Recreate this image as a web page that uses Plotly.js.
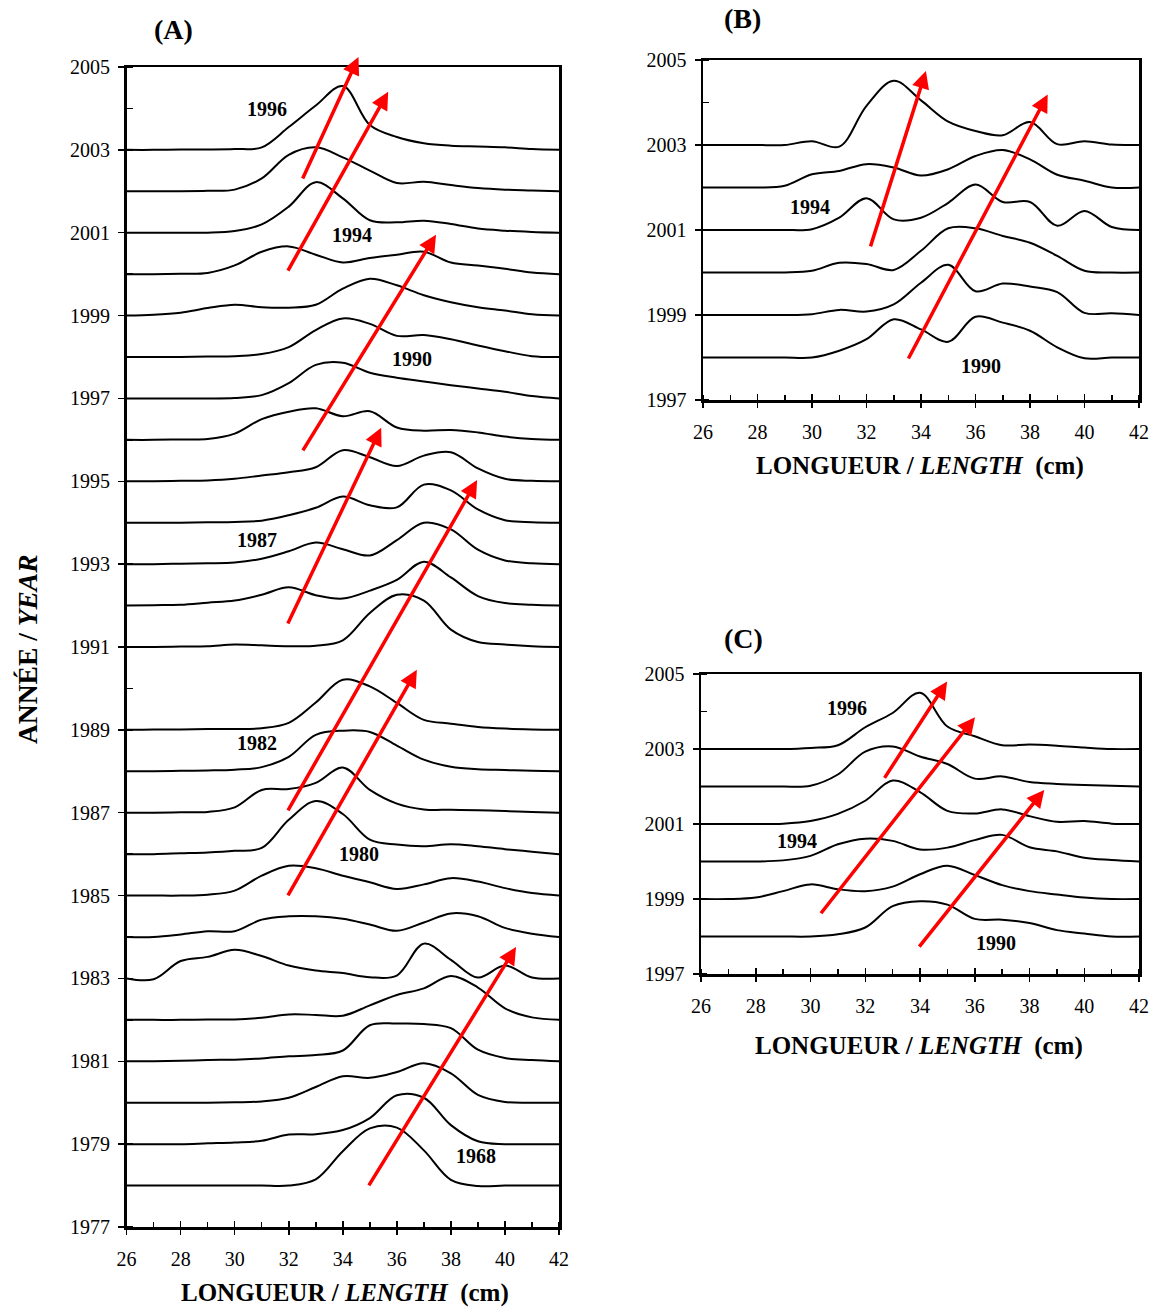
<!DOCTYPE html>
<html>
<head>
<meta charset="utf-8">
<script src="https://cdn.plot.ly/plotly-3.0.1.min.js"></script>
<style>
  html, body { margin: 0; padding: 0; background: #ffffff; }
  #chart { width: 1156px; height: 1310px; }
</style>
</head>
<body>
<div id="chart"></div>
<script>
// Length classes (cm) at which each length-frequency curve is sampled
const lengthsCm = [26, 27, 28, 29, 30, 31, 32, 33, 34, 35, 36, 37, 38, 39, 40, 41, 42];

// Panel A: relative frequency (in year units above each year's baseline)
const a2003 = [0, 0, 0.01, 0.01, 0.02, 0.06, 0.55, 1.07, 1.54, 0.60, 0.31, 0.16, 0.10, 0.08, 0.06, 0.02, 0];
const a2002 = [0, 0, 0, 0.01, 0.04, 0.31, 0.88, 1.06, 0.82, 0.50, 0.20, 0.23, 0.15, 0.08, 0.04, 0.02, 0];
const a2001 = [0, 0, 0, 0, 0.04, 0.20, 0.63, 1.22, 0.83, 0.30, 0.25, 0.29, 0.21, 0.10, 0.05, 0.02, 0];
const a2000 = [0, 0, 0.01, 0.03, 0.21, 0.54, 0.67, 0.47, 0.28, 0.39, 0.47, 0.54, 0.28, 0.21, 0.13, 0.04, 0];
const a1999 = [0, 0.02, 0.07, 0.18, 0.26, 0.20, 0.19, 0.26, 0.65, 0.89, 0.73, 0.49, 0.32, 0.20, 0.12, 0.03, 0];
const a1998 = [0, 0, 0, 0.01, 0.02, 0.07, 0.24, 0.65, 0.93, 0.80, 0.51, 0.53, 0.43, 0.28, 0.14, 0.02, 0];
const a1997 = [0, 0, 0, 0, 0.01, 0.08, 0.37, 0.81, 0.86, 0.62, 0.50, 0.41, 0.32, 0.24, 0.16, 0.06, 0];
const a1996 = [0, 0, 0.01, 0.02, 0.15, 0.50, 0.68, 0.76, 0.57, 0.69, 0.30, 0.22, 0.24, 0.18, 0.08, 0.02, 0];
const a1995 = [0, 0, 0.01, 0.02, 0.06, 0.14, 0.22, 0.34, 0.75, 0.58, 0.37, 0.62, 0.70, 0.31, 0.06, 0.01, 0];
const a1994 = [0, 0, 0, 0.01, 0.02, 0.05, 0.18, 0.36, 0.63, 0.42, 0.37, 0.92, 0.78, 0.32, 0.06, 0.01, 0];
const a1993 = [0, 0, 0.01, 0.02, 0.04, 0.13, 0.31, 0.52, 0.36, 0.21, 0.58, 1.00, 0.84, 0.35, 0.09, 0.02, 0];
const a1992 = [0, 0.01, 0.02, 0.07, 0.12, 0.26, 0.44, 0.25, 0.17, 0.36, 0.62, 1.06, 0.68, 0.23, 0.06, 0.02, 0];
const a1991 = [0, 0, 0.01, 0.02, 0.06, 0.04, 0.02, 0.03, 0.16, 0.82, 1.26, 1.12, 0.42, 0.12, 0.06, 0.02, 0];
const a1989 = [0, 0.01, 0.01, 0.02, 0.02, 0.04, 0.17, 0.66, 1.21, 1.05, 0.65, 0.24, 0.15, 0.07, 0.03, 0.01, 0];
const a1988 = [0, 0, 0.01, 0.02, 0.04, 0.10, 0.35, 0.88, 0.98, 0.95, 0.62, 0.28, 0.11, 0.05, 0.03, 0.01, 0];
const a1987 = [0, 0, 0.01, 0.02, 0.13, 0.55, 0.57, 0.72, 1.09, 0.55, 0.22, 0.08, 0.07, 0.06, 0.04, 0.02, 0];
const a1986 = [0, 0, 0.02, 0.04, 0.08, 0.15, 0.83, 1.28, 0.97, 0.35, 0.23, 0.19, 0.24, 0.19, 0.12, 0.06, 0];
const a1985 = [0, 0, 0, 0.02, 0.12, 0.48, 0.72, 0.66, 0.48, 0.32, 0.16, 0.27, 0.42, 0.34, 0.18, 0.06, 0];
const a1984 = [0, 0, 0.06, 0.14, 0.14, 0.42, 0.50, 0.50, 0.44, 0.30, 0.15, 0.35, 0.57, 0.50, 0.22, 0.08, 0];
const a1983 = [0, -0.02, 0.42, 0.52, 0.69, 0.54, 0.31, 0.19, 0.13, 0.03, 0.07, 0.84, 0.45, 0.02, 0.31, 0.02, 0];
const a1982 = [0, 0, 0, 0.01, 0.01, 0.05, 0.13, 0.12, 0.10, 0.35, 0.60, 0.76, 1.06, 0.78, 0.28, 0.06, 0];
const a1981 = [0, 0, 0.01, 0.03, 0.04, 0.07, 0.12, 0.15, 0.26, 0.87, 0.91, 0.90, 0.80, 0.28, 0.08, 0.03, 0];
const a1980 = [0, 0, 0, 0, 0.01, 0.03, 0.12, 0.38, 0.64, 0.60, 0.74, 0.95, 0.71, 0.19, 0.02, 0, 0];
const a1979 = [0, 0, 0, 0.02, 0.04, 0.08, 0.23, 0.24, 0.34, 0.63, 1.18, 1.12, 0.46, 0.07, 0, 0, 0];
const a1978 = [0, 0, 0, 0, 0, 0, 0, 0.15, 0.83, 1.38, 1.40, 0.85, 0.14, -0.01, 0, 0, 0];

const yearsA = [2003, 2002, 2001, 2000, 1999, 1998, 1997, 1996, 1995, 1994, 1993, 1992, 1991,
                1989, 1988, 1987, 1986, 1985, 1984, 1983, 1982, 1981, 1980, 1979, 1978];
const curvesA = [a2003, a2002, a2001, a2000, a1999, a1998, a1997, a1996, a1995, a1994, a1993, a1992, a1991,
                 a1989, a1988, a1987, a1986, a1985, a1984, a1983, a1982, a1981, a1980, a1979, a1978];

// Panel B
const b2003 = [0, 0, 0, 0, 0.09, -0.04, 0.92, 1.51, 1.05, 0.55, 0.33, 0.23, 0.54, 0.02, 0.09, 0.01, 0];
const b2002 = [0, 0, 0, 0.04, 0.31, 0.39, 0.55, 0.47, 0.28, 0.43, 0.74, 0.88, 0.66, 0.30, 0.16, 0, 0];
const b2001 = [0, 0, 0, 0, 0.02, 0.29, 0.75, 0.25, 0.29, 0.64, 1.07, 0.66, 0.66, 0.10, 0.45, 0.07, 0];
const b2000 = [0, 0, 0, 0, 0.04, 0.23, 0.20, 0.06, 0.51, 1.04, 1.04, 0.86, 0.70, 0.39, 0.04, 0, 0];
const b1999 = [0, 0, 0, 0, 0.02, 0.12, 0.08, 0.25, 0.76, 1.18, 0.56, 0.74, 0.67, 0.54, 0.05, 0.04, 0];
const b1998 = [0, 0, 0, 0, 0, 0.16, 0.43, 0.90, 0.66, 0.37, 0.96, 0.82, 0.63, 0.24, -0.02, 0, 0];
const yearsB = [2003, 2002, 2001, 2000, 1999, 1998];
const curvesB = [b2003, b2002, b2001, b2000, b1999, b1998];

// Panel C
const c2003 = [0, 0, 0, 0, 0.03, 0.10, 0.58, 0.96, 1.50, 0.60, 0.34, 0.10, 0.12, 0.09, 0.04, 0, 0];
const c2002 = [0, 0, 0, 0, 0.02, 0.32, 0.93, 1.07, 0.80, 0.60, 0.21, 0.27, 0.12, 0.07, 0.04, 0.02, 0];
const c2001 = [0, 0, 0, 0.01, 0.08, 0.27, 0.62, 1.16, 0.85, 0.35, 0.28, 0.39, 0.21, 0.06, 0.08, 0.01, 0];
const c2000 = [0, 0, 0, 0.03, 0.15, 0.46, 0.61, 0.55, 0.32, 0.37, 0.57, 0.71, 0.38, 0.27, 0.10, 0.04, 0];
const c1999 = [0, 0, 0.04, 0.21, 0.39, 0.26, 0.21, 0.33, 0.66, 0.89, 0.64, 0.37, 0.21, 0.12, 0.04, 0, 0];
const c1998 = [0, 0, 0, 0, 0, 0.06, 0.24, 0.81, 0.94, 0.85, 0.47, 0.45, 0.36, 0.17, 0.08, 0, 0];
const yearsC = [2003, 2002, 2001, 2000, 1999, 1998];
const curvesC = [c2003, c2002, c2001, c2000, c1999, c1998];

// Cohort progressions (arrow tail -> head) and their year-class labels
const cohortA = ['1996', '1994', '1990', '1987', '1982', '1980', '1968'];
const arrowA_x0 = [32.49, 31.94, 32.49, 31.94, 31.94, 31.94, 34.93];
const arrowA_y0 = [2002.27, 2000.05, 1995.71, 1991.53, 1987.02, 1984.97, 1977.97];
const arrowA_x1 = [34.58, 35.68, 37.45, 35.42, 38.97, 36.74, 40.41];
const arrowA_y1 = [2005.24, 2004.40, 2000.95, 1996.29, 1995.03, 1990.45, 1983.76];
const labelA_x = [31.19, 34.34, 36.56, 30.82, 30.82, 34.60, 38.93];
const labelA_y = [2003.99, 2000.95, 1997.95, 1993.58, 1988.68, 1986.00, 1978.71];

const cohortB = ['1994', '1990'];
const arrowB_x0 = [32.13, 33.51];
const arrowB_y0 = [2000.58, 1997.94];
const arrowB_x1 = [34.18, 38.65];
const arrowB_y1 = [2004.74, 2004.19];
const labelB_x = [29.93, 36.20];
const labelB_y = [2001.54, 1997.80];

const cohortC = ['1996', '1994', '1990'];
const arrowC_x0 = [32.67, 30.34, 33.93];
const arrowC_y0 = [2002.19, 1998.58, 1997.69];
const arrowC_x1 = [34.99, 36.01, 38.54];
const arrowC_y1 = [2004.80, 2003.85, 2001.91];
const labelC_x = [31.35, 29.50, 36.76];
const labelC_y = [2004.09, 2000.56, 1997.82];

const serif = 'Liberation Serif, Times New Roman, serif';
const W = 1156, H = 1310;

function ridgeTraces(years, curves, xa, ya) {
  return years.map((yr, i) => ({
    type: 'scatter', mode: 'lines',
    x: lengthsCm,
    y: curves[i].map(h => yr + h),
    xaxis: xa, yaxis: ya,
    line: { color: '#000000', width: 2, shape: 'spline', smoothing: 1 },
    hoverinfo: 'skip', showlegend: false
  }));
}

function cohortAnnotations(labels, x0, y0, x1, y1, lx, ly, xr, yr) {
  const out = [];
  labels.forEach((lab, i) => {
    out.push({
      xref: xr, yref: yr, axref: xr, ayref: yr,
      x: x1[i], y: y1[i], ax: x0[i], ay: y0[i],
      text: '', showarrow: true,
      arrowhead: 2, arrowsize: 1, arrowwidth: 3.5, arrowcolor: '#ff0000',
      standoff: 0, startstandoff: 0
    });
    out.push({
      xref: xr, yref: yr, x: lx[i], y: ly[i],
      text: '<b>' + lab + '</b>', showarrow: false,
      xanchor: 'center', yanchor: 'middle',
      font: { family: serif, size: 20, color: '#000000' }
    });
  });
  return out;
}

const tickFont = { family: serif, size: 20, color: '#000000' };

function xAxis(domain, anchor) {
  return {
    domain: domain, anchor: anchor, range: [26, 42],
    tickmode: 'linear', tick0: 26, dtick: 2,
    ticks: 'outside', ticklen: 5, tickwidth: 1.5, tickcolor: '#000000',
    minor: { ticks: 'inside', tick0: 26, dtick: 1, ticklen: 5, tickwidth: 1.5, tickcolor: '#000000' },
    showline: true, mirror: true, linewidth: 2.5, linecolor: '#000000',
    showgrid: false, zeroline: false,
    tickfont: tickFont, ticklabelstandoff: 7, fixedrange: true
  };
}

function innerXTicks(overlay, anchor) {
  return {
    overlaying: overlay, anchor: anchor, range: [26, 42],
    tickmode: 'linear', tick0: 26, dtick: 2,
    ticks: 'inside', ticklen: 6, tickwidth: 1.5, tickcolor: '#000000',
    showticklabels: false, showline: false, showgrid: false, zeroline: false, fixedrange: true
  };
}

function yAxis(domain, anchor, lo) {
  return {
    domain: domain, anchor: anchor, range: [lo, 2005],
    tickmode: 'linear', tick0: lo, dtick: 2,
    ticks: 'outside', ticklen: 6, tickwidth: 1.5, tickcolor: '#000000',
    minor: { ticks: 'inside', tick0: lo, dtick: 1, ticklen: 6, tickwidth: 1.5, tickcolor: '#000000' },
    showline: true, mirror: true, linewidth: 2.5, linecolor: '#000000',
    showgrid: false, zeroline: false,
    tickfont: tickFont, ticklabelstandoff: 4, fixedrange: true
  };
}

const traces = []
  .concat(ridgeTraces(yearsA, curvesA, 'x', 'y'))
  .concat(ridgeTraces(yearsB, curvesB, 'x2', 'y2'))
  .concat(ridgeTraces(yearsC, curvesC, 'x3', 'y3'));
// empty traces so the overlay tick axes get drawn
[['x4', 'y'], ['x5', 'y2'], ['x6', 'y3']].forEach(p => {
  traces.push({ type: 'scatter', mode: 'lines', x: [], y: [], xaxis: p[0], yaxis: p[1], showlegend: false, hoverinfo: 'skip' });
});

const titleText = '<b>LONGUEUR / <i>LENGTH</i> &nbsp;(cm)</b>';
function paperNote(text, px, py, size, angle) {
  return {
    xref: 'paper', yref: 'paper', x: px / W, y: 1 - py / H,
    text: text, showarrow: false, xanchor: 'center', yanchor: 'middle',
    textangle: angle || 0, borderpad: 0,
    font: { family: serif, size: size, color: '#000000' }
  };
}

const annotations = []
  .concat(cohortAnnotations(cohortA, arrowA_x0, arrowA_y0, arrowA_x1, arrowA_y1, labelA_x, labelA_y, 'x', 'y'))
  .concat(cohortAnnotations(cohortB, arrowB_x0, arrowB_y0, arrowB_x1, arrowB_y1, labelB_x, labelB_y, 'x2', 'y2'))
  .concat(cohortAnnotations(cohortC, arrowC_x0, arrowC_y0, arrowC_x1, arrowC_y1, labelC_x, labelC_y, 'x3', 'y3'))
  .concat([
    paperNote('<b>(A)</b>', 173, 29, 28),
    paperNote('<b>(B)</b>', 742, 19, 28),
    paperNote('<b>(C)</b>', 743, 638, 28),
    paperNote(titleText, 345, 1293, 25),
    paperNote(titleText, 920, 466, 25),
    paperNote(titleText, 919, 1046, 25),
    paperNote('<b>ANNÉE / <i>YEAR</i></b>', 27, 650, 27.5, -90)
  ]);

const layout = {
  width: W, height: H,
  margin: { l: 0, r: 0, t: 0, b: 0, pad: 0 },
  paper_bgcolor: '#ffffff', plot_bgcolor: '#ffffff',
  showlegend: false,
  font: { family: serif, color: '#000000' },
  xaxis:  xAxis([126.6 / W, 559 / W], 'y'),
  yaxis:  yAxis([1 - 1227 / H, 1 - 67 / H], 'x', 1977),
  xaxis2: xAxis([703 / W, 1139 / W], 'y2'),
  yaxis2: yAxis([1 - 400 / H, 1 - 60 / H], 'x2', 1997),
  xaxis3: xAxis([701 / W, 1139 / W], 'y3'),
  yaxis3: yAxis([1 - 974 / H, 1 - 674 / H], 'x3', 1997),
  xaxis4: innerXTicks('x', 'y'),
  xaxis5: innerXTicks('x2', 'y2'),
  xaxis6: innerXTicks('x3', 'y3'),
  annotations: annotations
};

Plotly.newPlot('chart', traces, layout, { displayModeBar: false, staticPlot: true });
</script>
</body>
</html>
